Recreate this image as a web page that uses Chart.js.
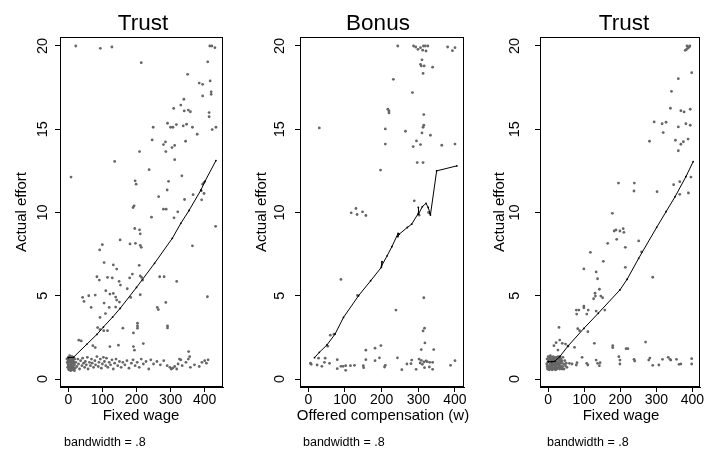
<!DOCTYPE html>
<html><head><meta charset="utf-8">
<script src="https://cdn.jsdelivr.net/npm/chart.js@4/dist/chart.umd.min.js"></script>
<style>
html,body{margin:0;padding:0;background:#fff;}
#wrap{position:relative;width:704px;height:454px;overflow:hidden;background:#fff;}
canvas{position:absolute;left:0;top:0;}
</style></head><body>
<div id="wrap">
<canvas id="c1" width="704" height="454"></canvas>
<canvas id="c2" width="704" height="454"></canvas>
<canvas id="c3" width="704" height="454"></canvas>
</div>
<script>
// ---------- shared axis text ----------
const yTicks = [0, 5, 10, 15, 20];
const xTicks = [0, 100, 200, 300, 400];
const titles = ["Trust", "Bonus", "Trust"];
const xTitles = ["Fixed wage", "Offered compensation (w)", "Fixed wage"];
const yTitle = "Actual effort";
const note = "bandwidth = .8";

// ---------- panel 1: Trust (fixed wage) ----------
const trust1X = [
 22,94,128,214,415,421,430,409,350,384,394,416,394,419,419,339,330,309,340,352,358,413,413,
 249,291,300,307,317,337,347,364,378,422,433,246,279,285,304,312,344,209,286,312,136,237,333,
 8,196,199,294,398,394,290,390,398,265,366,341,391,193,190,279,287,244,310,321,432,195,209,211,
 152,100,92,181,197,211,214,364,105,132,142,208,84,91,115,129,149,153,188,180,211,215,218,268,281,
 318,110,122,132,139,142,173,211,42,46,60,67,79,105,120,139,150,183,261,264,286,408,93,109,86,93,
 115,104,160,203,203,203,191,291,291,31,38,72,79,122,147,191,194,220,353,356,
 0,1,2,3,4,5,6,7,8,9,10,11,12,13,14,15,16,17,18,19,20,0,2,6,10,3,8,12,5,14,-3,-2,-4,1,4,7,9,11,13,16,18,-1,0,15,17,
 22,25,28,30,33,36,40,42,45,48,50,53,56,58,62,65,68,70,74,78,80,84,88,90,94,97,100,103,106,110,112,116,120,124,128,132,136,140,145,150,
 155,160,166,172,178,185,190,196,202,208,214,220,228,236,242,250,260,270,280,290,
 298,302,306,312,318,322,326,330,334,345,352,358,370,384,392,400,405,410
];
const trust1Y = [
 20.0,19.86,19.94,19.0,20.0,20.0,19.9,19.05,18.3,17.77,17.7,17.9,17.0,17.25,17.1,16.8,16.45,16.25,16.1,16.15,16.05,16.0,15.75,
 15.12,15.36,15.12,15.12,15.28,15.2,15.3,15.12,14.7,14.98,15.12,14.36,14.08,14.24,13.9,14.03,14.28,13.66,13.66,13.17,13.07,12.57,12.2,
 12.13,11.9,11.7,11.87,11.8,11.7,11.35,11.3,11.14,10.95,11.07,10.78,10.76,10.4,10.3,10.2,10.2,9.72,9.68,10.04,9.17,9.04,8.96,8.72,
 8.35,8.07,7.75,8.11,8.15,8.03,7.91,8.0,6.99,6.85,6.6,6.83,6.14,5.94,6.1,6.07,5.86,5.64,6.3,6.07,6.19,6.1,5.94,6.14,6.14,
 5.86,5.3,5.1,5.14,4.92,4.74,5.42,5.06,4.9,4.66,5.0,4.3,5.04,4.56,4.3,4.32,4.62,4.9,4.3,4.17,4.6,4.94,3.7,3.93,3.09,2.97,
 2.9,2.9,3.05,3.35,3.19,3.05,2.77,3.19,3.07,2.33,2.29,2.0,1.89,1.95,2.03,1.95,1.73,2.13,1.65,1.34,
 0.8,1.0,1.2,0.7,0.6,1.0,1.3,1.15,0.9,0.75,0.6,0.95,1.1,1.25,0.8,0.7,1.0,0.6,0.85,1.2,0.65,1.3,0.55,0.85,1.2,1.05,1.35,0.7,0.65,1.15,1.0,0.7,1.2,0.6,1.4,0.5,1.05,1.35,0.55,1.3,0.5,0.9,1.1,1.05,0.9,
 1.0,0.75,1.2,0.9,0.6,1.1,0.8,1.25,0.95,0.7,1.05,0.85,1.3,0.6,1.0,0.8,1.2,0.95,0.7,1.1,0.85,1.35,0.75,1.0,1.2,0.65,0.9,1.3,1.05,0.8,1.25,0.7,1.0,0.85,1.15,0.6,0.95,1.2,0.8,1.05,
 0.7,1.0,0.85,1.1,0.65,0.95,1.15,0.8,1.0,0.7,1.2,0.9,1.05,0.6,1.15,0.9,1.05,0.85,1.1,0.8,
 0.7,0.6,0.65,0.75,0.6,0.9,1.2,1.15,0.8,1.0,1.2,0.7,0.85,0.75,1.0,1.1,0.95,1.15
];
const trust1FitX = [0, 15, 54, 84, 103, 130, 152, 200, 253, 305, 330, 354, 389, 401, 433];
const trust1FitY = [1.28, 1.3, 2.08, 2.68, 3.12, 3.72, 4.24, 5.5, 6.95, 8.45, 9.35, 10.12, 11.35, 11.88, 13.12];

// ---------- panel 2: Bonus ----------
const bonusX = [
 244,287,293,299,306,314,319,326,321,312,380,393,400,310,306,308,316,339,313,232,284,217,220,220,315,30,210,315,313,265,310,333,
 210,295,286,306,364,400,297,313,197,289,117,130,133,148,157,302,328,89,134,315,239,317,313,318,60,70,53,157,182,198,308,342,28,46,44,
 8,6,24,37,58,79,79,89,95,102,102,115,150,151,157,182,194,208,210,243,255,269,280,282,294,302,305,308,311,315,317,321,324,331,339,339,388,400,126,330
];
const bonusY = [
 20.0,20.0,19.94,19.8,19.9,20.0,20.0,20.0,19.7,19.75,19.94,19.72,19.9,19.17,18.9,18.8,18.8,18.73,18.35,18.0,17.2,16.2,16.1,15.98,15.88,15.08,15.02,15.24,15.12,14.88,14.78,14.64,
 14.11,14.3,13.96,14.08,14.04,14.11,13.0,13.0,12.55,10.7,9.98,10.24,9.88,10.04,9.82,9.84,10.0,5.98,5.02,4.88,4.14,3.05,2.89,2.17,2.63,2.69,1.97,1.73,1.85,2.01,1.77,1.77,1.25,1.25,1.0,
 0.88,0.95,0.84,0.76,0.94,1.16,0.62,0.76,0.76,0.8,0.52,0.8,0.8,0.68,1.16,1.1,1.27,0.72,0.82,1.27,0.56,0.9,0.92,1.14,0.58,1.2,0.96,1.12,0.88,1.02,0.68,1.08,1.04,1.0,1.0,0.58,0.82,1.1,0.82,0.72
];
const bonusFitX = [17, 30, 51, 73, 96, 137, 170, 199, 201, 200, 215, 228, 245, 244, 248, 270, 282, 300, 300, 301, 311, 321, 327, 332, 333, 350, 405];
const bonusFitY = [1.28, 1.6, 2.05, 2.7, 3.7, 5.0, 5.9, 6.7, 7.05, 6.8, 7.4, 7.95, 8.75, 8.55, 8.7, 9.1, 9.3, 9.95, 10.3, 9.9, 10.35, 10.55, 10.3, 9.95, 9.85, 12.5, 12.8];

// ---------- panel 3: Trust (fixed wage) ----------
const trust2X = [
 385,391,393,380,383,387,398,361,342,339,368,377,394,294,316,327,361,382,394,319,281,353,368,375,388,361,195,239,238,302,348,365,396,389,365,
 178,183,188,199,208,210,190,165,251,259,117,153,214,214,99,290,133,137,142,130,131,126,146,151,133,157,78,85,79,99,99,107,111,82,87,110,30,
 128,179,179,216,221,270,16,22,32,39,48,55,73,27,
 59,66,78,80,94,107,110,133,137,142,144,196,199,199,238,240,282,279,290,307,317,333,338,340,356,363,368,398,398,
 -4,-3,-2,-1,0,0,1,2,2,3,4,4,5,6,6,7,8,8,9,10,10,11,12,12,13,14,14,15,16,16,17,18,18,19,20,20,21,22,22,23,24,24,25,26,27,27,28,29,30,30,
 31,32,33,34,35,36,37,38,40,41,43,44,46,48,50,52,-3,1,5,9,11,15,19,23,26,29,33,36,39
];
const trust2Y = [
 20.0,19.94,20.0,19.74,19.78,19.86,18.4,18.04,17.28,16.26,16.11,16.04,16.2,15.44,15.33,15.42,15.14,15.33,15.24,14.8,14.28,14.34,14.1,14.25,14.41,13.71,11.77,11.77,11.29,11.25,11.67,11.85,12.13,11.17,11.09,
 9.95,8.89,8.95,8.89,9.03,8.81,8.39,8.15,8.29,7.63,7.61,7.07,7.91,6.71,6.61,6.11,6.43,6.02,5.39,5.15,4.98,4.82,4.98,4.88,4.08,4.14,4.14,4.14,3.9,4.38,4.28,3.9,4.14,3.02,2.9,2.84,3.1,
 2.14,2.0,1.88,1.82,1.82,2.22,2.0,2.18,2.34,2.14,2.1,1.98,1.9,1.74,
 0.94,0.9,0.84,0.98,1.3,0.94,0.84,1.14,0.94,0.8,0.98,1.34,1.14,0.9,1.18,1.08,1.26,1.14,0.82,0.84,1.18,1.3,1.18,1.14,1.18,0.88,0.9,1.22,0.9,
 0.9,1.2,0.6,1.0,1.35,0.7,1.1,0.8,1.3,0.55,1.0,1.25,0.7,0.9,1.4,1.15,0.6,0.95,1.3,0.75,1.1,0.55,1.2,0.85,1.0,0.65,1.35,0.9,1.15,0.6,0.8,1.25,1.0,0.7,1.1,0.55,0.9,1.3,0.75,1.05,0.6,1.2,0.85,1.0,0.65,1.35,0.95,1.15,0.7,0.9,
 1.25,0.6,1.05,0.8,1.2,0.65,0.95,1.1,0.75,1.3,0.9,0.6,1.1,0.8,0.95,0.7,0.75,0.6,1.2,0.85,1.0,1.3,0.95,0.6,1.25,0.8,1.35,1.0,0.6
];
const trust2FitX = [0, 10, 18, 32, 55, 99, 139, 199, 219, 251, 301, 327, 352, 382, 402];
const trust2FitY = [1.04, 1.04, 1.06, 1.34, 1.98, 3.04, 3.95, 5.35, 5.99, 7.25, 9.11, 10.05, 10.95, 12.15, 13.05];

// ---------- layout ----------
const FONT = '"Liberation Sans", Arial, Helvetica, sans-serif';
const BOX_TOP = 37, BOX_BOTTOM = 387;
const Y_MIN = -0.48, Y_MAX = 20.54;

function pts(xs, ys) { return xs.map((x, i) => ({ x: x, y: ys[i] })); }

function makePanel(id, idx, xs, ys, fx, fy, lay) {
  const textPlugin = {
    id: 'txt' + idx,
    beforeDatasetsDraw(chart) {
      const a = chart.chartArea, c = chart.ctx;
      c.save();
      c.strokeStyle = '#000'; c.lineWidth = 1;
      c.strokeRect(Math.round(a.left) + 0.5, Math.round(a.top) + 0.5, Math.round(a.right - a.left) - 1, Math.round(a.bottom - a.top) - 1);
      c.restore();
    },
    afterDraw(chart) {
      const c = chart.ctx, xs_ = chart.scales.x, ys_ = chart.scales.y;
      c.save();
      c.fillStyle = '#000';
      c.font = '22.5px ' + FONT; c.textAlign = 'center'; c.textBaseline = 'alphabetic';
      c.fillText(titles[idx], lay.titleX, 30);
      c.font = '14px ' + FONT;
      xTicks.forEach(v => c.fillText(String(v), xs_.getPixelForValue(v), 403.5));
      c.font = '15px ' + FONT;
      c.fillText(xTitles[idx], lay.xTitleX, 420);
      c.font = '12.5px ' + FONT; c.textAlign = 'left';
      c.fillText(note, lay.noteX, 446);
      c.font = '14.5px ' + FONT; c.textAlign = 'center'; c.textBaseline = 'middle';
      yTicks.forEach(v => {
        c.save(); c.translate(lay.yLabX, ys_.getPixelForValue(v)); c.rotate(-Math.PI / 2);
        c.fillText(String(v), 0, 0); c.restore();
      });
      c.font = '15px ' + FONT;
      c.save(); c.translate(lay.yTitleX, (BOX_TOP + BOX_BOTTOM) / 2); c.rotate(-Math.PI / 2);
      c.fillText(yTitle, 0, 0); c.restore();
      c.restore();
    }
  };
  return new Chart(document.getElementById(id), {
    type: 'scatter',
    data: {
      datasets: [
        { data: pts(fx, fy), showLine: true, borderColor: '#000', borderWidth: 1, pointRadius: 0.9, pointBackgroundColor: '#000', pointBorderWidth: 0, tension: 0 },
        { data: pts(xs, ys), pointRadius: 1.4, pointBackgroundColor: '#666666', pointBorderWidth: 0 }
      ]
    },
    options: {
      responsive: false, animation: false, events: [],
      layout: { padding: { left: lay.boxLeft - 10, right: 704 - lay.boxRight, top: BOX_TOP, bottom: 0 } },
      plugins: { legend: { display: false }, tooltip: { enabled: false }, title: { display: false } },
      scales: {
        x: {
          type: 'linear', min: lay.xMin, max: lay.xMax,
          afterBuildTicks: s => { s.ticks = xTicks.map(v => ({ value: v })); },
          afterFit: s => { s.height = 454 - BOX_BOTTOM; },
          ticks: { display: false },
          grid: { drawOnChartArea: false, drawTicks: true, tickLength: 5, color: '#000', lineWidth: 1 },
          border: { display: true, color: '#000', width: 1 }
        },
        y: {
          type: 'linear', min: Y_MIN, max: Y_MAX,
          afterBuildTicks: s => { s.ticks = yTicks.map(v => ({ value: v })); },
          afterFit: s => { s.width = 10; },
          ticks: { display: false },
          grid: { drawOnChartArea: false, drawTicks: true, tickLength: 5, color: '#000', lineWidth: 1 },
          border: { display: true, color: '#000', width: 1 }
        }
      }
    },
    plugins: [textPlugin]
  });
}

makePanel('c1', 0, trust1X, trust1Y, trust1FitX, trust1FitY,
  { boxLeft: 60, boxRight: 223, xMin: -24.3, xMax: 453.7, titleX: 143, xTitleX: 141, noteX: 64, yLabX: 43, yTitleX: 22 });
makePanel('c2', 1, bonusX, bonusY, bonusFitX, bonusFitY,
  { boxLeft: 300, boxRight: 464, xMin: -22.6, xMax: 424.6, titleX: 378, xTitleX: 383, noteX: 303, yLabX: 280, yTitleX: 262 });
makePanel('c3', 2, trust2X, trust2Y, trust2FitX, trust2FitY,
  { boxLeft: 540, boxRight: 702, xMin: -22.7, xMax: 421.1, titleX: 624, xTitleX: 621, noteX: 547, yLabX: 515, yTitleX: 500 });
</script>
</body></html>
